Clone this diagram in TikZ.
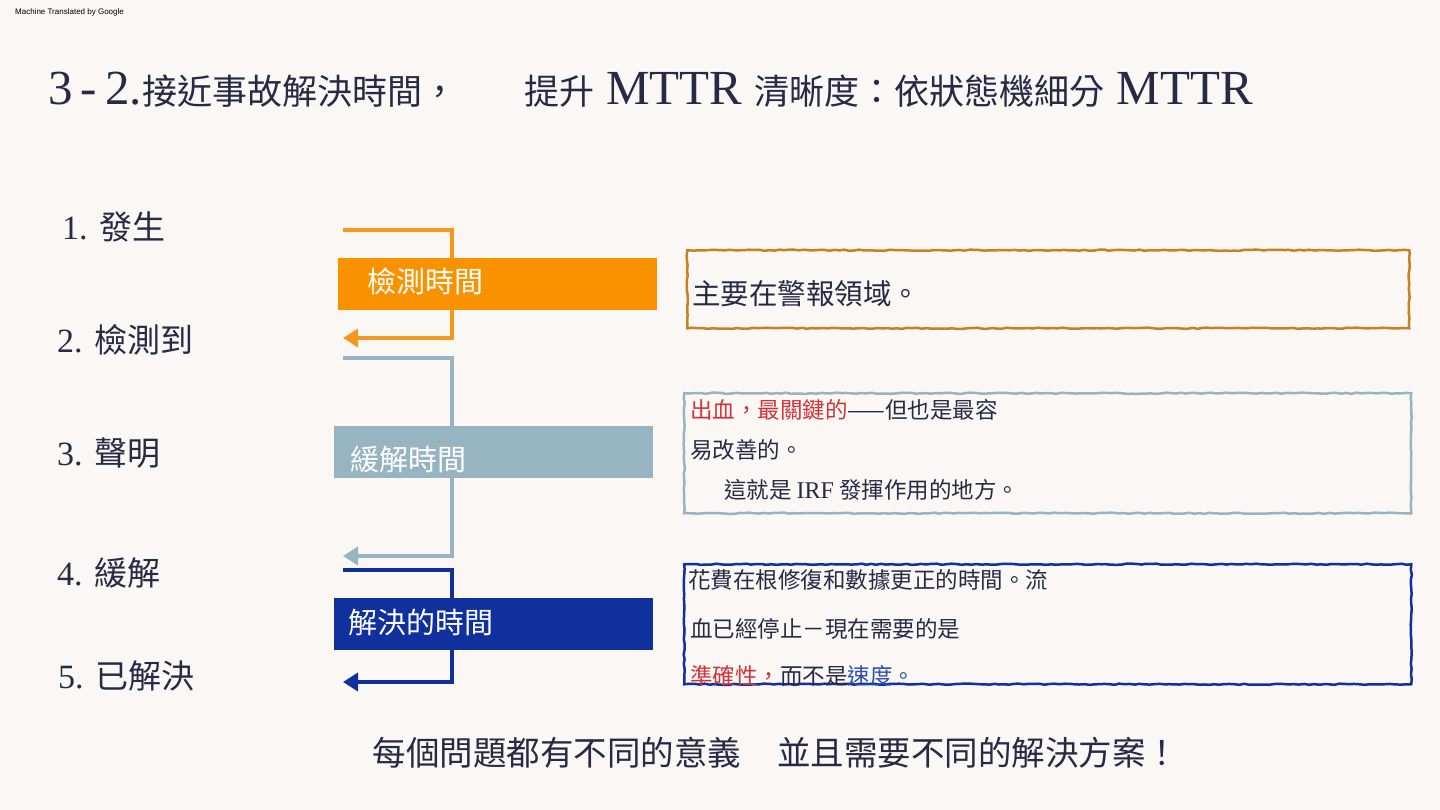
\documentclass[tikz,border=0pt]{standalone}
\usepackage{fontspec}
\setmainfont{Liberation Serif}
\setsansfont{Liberation Sans}
\newfontfamily\cjk{Noto Sans CJK TC}
\usepackage{tikz}
\usetikzlibrary{positioning, arrows.meta, decorations.pathmorphing}
\definecolor{bgpaper}{HTML}{FAF7F5}
\definecolor{ink}{HTML}{262A45}
\definecolor{detorange}{HTML}{FA9200}
\definecolor{detline}{HTML}{F39A1E}
\definecolor{detframe}{HTML}{C98022}
\definecolor{mitblue}{HTML}{96B5C1}
\definecolor{resnavy}{HTML}{10309E}
\definecolor{hlred}{HTML}{D0343A}
\definecolor{hlblue}{HTML}{2A4DB5}
\newcommand{\fsz}[1]{\fontsize{#1}{#1}\selectfont}
\newcommand{\tcjk}[1]{{\cjk\fsz{35}#1}}
\newcommand{\scjk}[1]{{\cjk\fsz{33}#1}}
\tikzset{
  stage/.style   ={anchor=base west, font=\fsz{34}, text=ink, inner sep=0pt},
  bar/.style     ={minimum width=319pt, minimum height=52pt, inner sep=0pt, anchor=north west},
  bartext/.style ={anchor=base west, font=\cjk\fsz{29}, text=white, inner sep=0pt},
  span/.style    ={line width=4pt, -{Triangle[length=15pt, width=18pt]}},
  note/.style    ={draw, line width=2.5pt, anchor=north west, inner sep=0pt,
                   decorate, decoration={random steps, segment length=5pt, amplitude=0.6pt}},
  notetext/.style={anchor=base west, font=\cjk\fsz{22.5}, text=ink, inner sep=0pt},
}

\begin{document}
\begin{tikzpicture}[x=1pt, y=-1pt]
  \fill[bgpaper] (0,0) rectangle (1440,810);
  \useasboundingbox (0,0) rectangle (1440,810);
  \node[anchor=base west, font=\sffamily\fsz{8}, inner sep=0pt] (stamp) at (15,15) {Machine Translated by Google};
  \node[anchor=base west, font=\fsz{49}, text=ink, inner sep=0pt] (title) at (48,105)
    {3\,-\,2.\tcjk{接近事故解決時間，}\hspace{67pt}\tcjk{提升} MTTR \tcjk{清晰度：依狀態機細分} MTTR};
  % stages
  \node[stage] (s1) at (62,240) {1. \scjk{發生}};
  \node[stage] (s2) at (57,352) {2. \scjk{檢測到}};
  \node[stage] (s3) at (57,465) {3. \scjk{聲明}};
  \node[stage] (s4) at (57,585) {4. \scjk{緩解}};
  \node[stage] (s5) at (58,688) {5. \scjk{已解決}};
  % spans
  \coordinate (det0) at (343,230);
  \coordinate (detturn) at (452,230);
  \coordinate (det1) at (343,338);
  \coordinate (mit0) at (343,358);
  \coordinate (mitturn) at (452,358);
  \coordinate (mit1) at (343,556);
  \coordinate (res0) at (343,570);
  \coordinate (resturn) at (452,570);
  \coordinate (res1) at (343,682);
  \draw[span, detline] (det0) -- (detturn) |- (det1);
  \draw[span, mitblue] (mit0) -- (mitturn) |- (mit1);
  \draw[span, resnavy] (res0) -- (resturn) |- (res1);
  \node[bar, fill=detorange] (detbar) at (338,258) {};
  \node[bar, fill=mitblue]   (mitbar) at (334,426) {};
  \node[bar, fill=resnavy]   (resbar) at (334,598) {};
  \node[bartext] (detlbl) at (367,293) {檢測時間};
  \node[bartext] (mitlbl) at (350,470) {緩解時間};
  \node[bartext] (reslbl) at (348,633) {解決的時間};
  % notes
  \node[note, draw=detframe, minimum width=722pt, minimum height=78pt]  (detnote) at (686,249) {};
  \node[note, draw=mitblue,  minimum width=727pt, minimum height=120pt] (mitnote) at (683,392) {};
  \node[note, draw=resnavy,  minimum width=727pt, minimum height=120pt] (resnote) at (683,563) {};
  \node[notetext, font=\cjk\fsz{28.5}] (det1t) at (692,305) {主要在警報領域。};
  \node[notetext] (mit1t) at (690,418) {{\color{hlred}出血，最關鍵的}——但也是最容};
  \node[notetext] (mit2t) at (690,458) {易改善的。};
  \node[notetext] (mit3t) at (724,498) {這就是 {\rmfamily\fsz{24}IRF} 發揮作用的地方。};
  \node[notetext] (res1t) at (688,588) {花費在根修復和數據更正的時間。流};
  \node[notetext] (res2t) at (690,637) {血已經停止－現在需要的是};
  \node[notetext] (res3t) at (690,684) {{\color{hlred}準確性，}而不是{\color{hlblue}速度。}};
  \node[anchor=base, font=\cjk\fsz{33.5}, text=ink, inner sep=0pt] (motto) at (776,765)
    {每個問題都有不同的意義\hspace{36pt}並且需要不同的解決方案！};
\end{tikzpicture}
\end{document}
